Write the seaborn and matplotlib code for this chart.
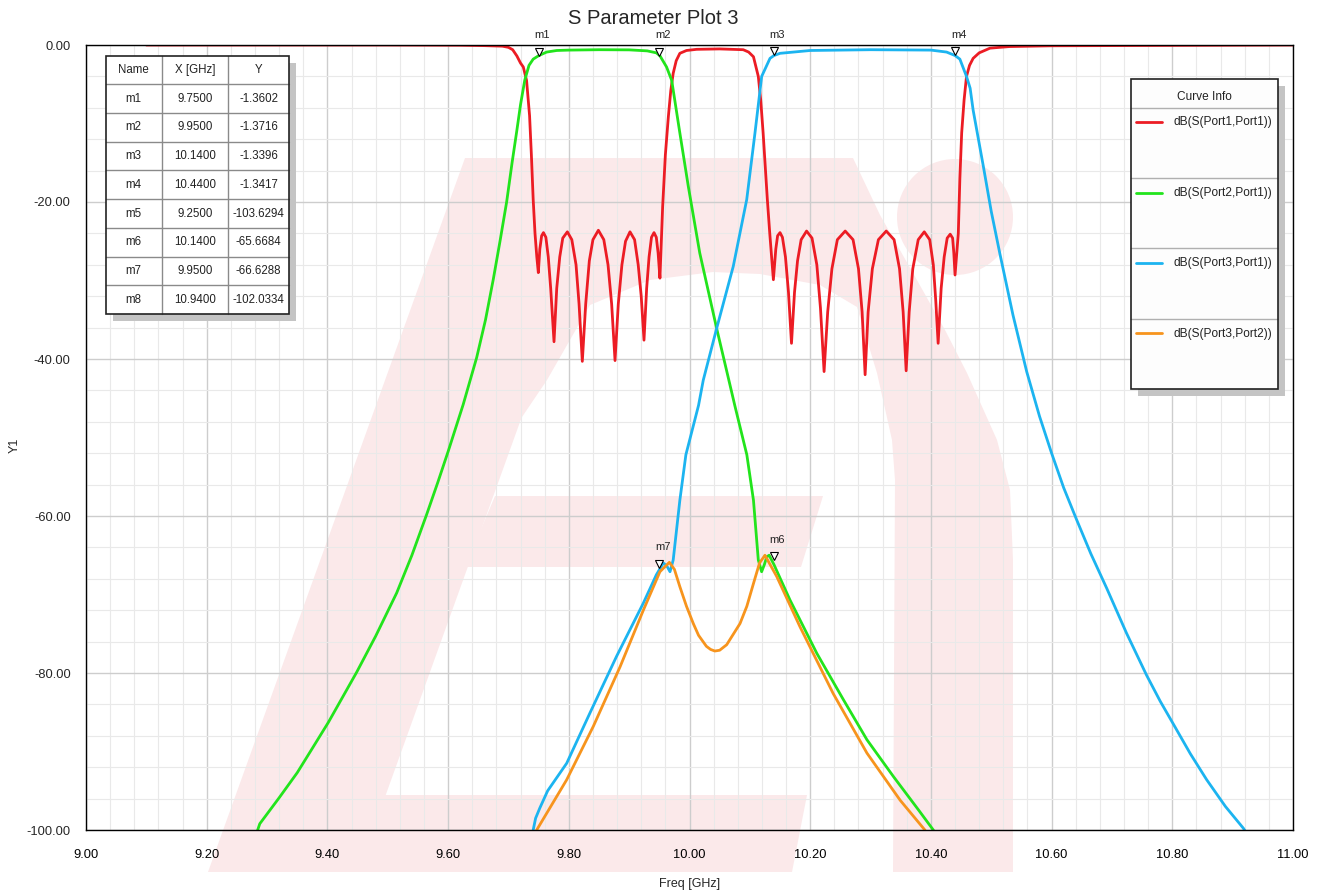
import pandas as pd
import matplotlib
matplotlib.use('Agg')
import matplotlib.pyplot as plt
import matplotlib.patches as mpatches
from matplotlib.lines import Line2D
from matplotlib.ticker import MultipleLocator, FixedLocator
from matplotlib.transforms import ScaledTranslation
import seaborn as sns

# ---- data ----
s11_freq = [9.10, 9.50, 9.62, 9.66, 9.69, 9.70, 9.707, 9.714, 9.72, 9.7246, 9.730, 9.735, 9.738, 9.741,
            9.744, 9.747, 9.7495, 9.752, 9.755, 9.758, 9.762, 9.766, 9.770, 9.7755, 9.780, 9.785, 9.790,
            9.7976, 9.805, 9.812, 9.817, 9.8224, 9.828, 9.834, 9.840, 9.849, 9.858, 9.865, 9.871, 9.8766,
            9.882, 9.888, 9.894, 9.9014, 9.909, 9.915, 9.920, 9.9246, 9.929, 9.933, 9.937, 9.9412, 9.945,
            9.948, 9.951, 9.9555, 9.960, 9.965, 9.969, 9.973, 9.978, 9.984, 9.995, 10.012, 10.05, 10.089,
            10.098, 10.106, 10.114, 10.118, 10.122, 10.126, 10.129, 10.133, 10.136, 10.139, 10.143, 10.146,
            10.150, 10.154, 10.159, 10.164, 10.169, 10.174, 10.179, 10.185, 10.194, 10.203, 10.211, 10.217,
            10.223, 10.229, 10.236, 10.245, 10.258, 10.271, 10.280, 10.286, 10.291, 10.296, 10.303, 10.313,
            10.326, 10.339, 10.348, 10.354, 10.359, 10.364, 10.370, 10.379, 10.389, 10.398, 10.404, 10.408,
            10.412, 10.417, 10.422, 10.427, 10.432, 10.436, 10.438, 10.440, 10.4454, 10.448, 10.451, 10.455,
            10.459, 10.464, 10.470, 10.48, 10.498, 10.53, 10.60, 11.00]
s11_db = [0.0, 0.0, -0.03, -0.08, -0.15, -0.3, -0.6, -1.4, -2.3, -2.8, -4.5, -9.0, -14.0, -19.7,
          -24.0, -27.0, -29.0, -26.0, -24.3, -23.9, -24.5, -27.0, -31.0, -37.8, -31.0, -27.0, -24.6,
          -23.8, -24.8, -28.0, -33.0, -40.3, -33.0, -27.5, -24.8, -23.6, -24.8, -28.0, -33.0, -40.2,
          -33.0, -28.0, -25.0, -23.8, -24.8, -28.0, -32.0, -37.6, -31.0, -27.0, -24.5, -23.9, -24.5,
          -26.5, -29.7, -20.6, -14.0, -9.1, -5.8, -3.6, -2.0, -1.06, -0.7, -0.55, -0.5, -0.6,
          -0.9, -1.5, -4.0, -7.0, -11.2, -16.0, -19.7, -24.0, -27.0, -29.9, -26.0, -24.3,
          -23.9, -24.5, -27.0, -31.5, -38.0, -31.5, -27.5, -24.8, -23.7, -24.6, -28.0, -33.5,
          -41.6, -34.0, -28.5, -24.8, -23.7, -24.8, -28.5, -34.0, -42.0, -34.0, -28.5, -24.8,
          -23.7, -24.8, -28.5, -34.0, -41.5, -34.0, -28.5, -24.8, -23.8, -24.8, -28.0, -32.5,
          -38.0, -31.0, -27.0, -24.6, -24.1, -24.6, -26.5, -29.3, -24.0, -17.0, -11.2, -7.0,
          -4.0, -2.6, -1.7, -1.0, -0.4, -0.2, -0.1, 0.0]

s21_freq = [9.28, 9.288, 9.32, 9.35, 9.375, 9.4015, 9.425, 9.4485, 9.48, 9.5148, 9.54, 9.5645, 9.583,
            9.6004, 9.625, 9.6474, 9.662, 9.675, 9.686, 9.697, 9.706, 9.7137, 9.72, 9.727, 9.734, 9.741,
            9.75, 9.7633, 9.78, 9.80, 9.85, 9.90, 9.93, 9.945, 9.951, 9.962, 9.9705, 9.984, 9.998,
            10.017, 10.045, 10.064, 10.075, 10.095, 10.106, 10.114, 10.1195, 10.124, 10.128, 10.132,
            10.14, 10.1665, 10.211, 10.255, 10.294, 10.338, 10.38, 10.404, 10.41]
s21_db = [-101.0, -99.2, -95.9, -92.7, -89.6, -86.3, -83.1, -79.9, -75.3, -69.8, -65.0, -59.8, -55.7,
          -51.7, -45.8, -39.8, -35.0, -29.8, -25.0, -20.0, -15.0, -11.0, -7.6, -4.5, -2.6, -1.8,
          -1.36, -0.9, -0.7, -0.65, -0.6, -0.62, -0.75, -1.0, -1.37, -2.8, -4.5, -11.2, -18.0,
          -26.5, -36.1, -42.3, -45.9, -52.2, -58.0, -65.6, -67.1, -66.2, -65.2, -65.0,
          -66.2, -70.7, -77.5, -83.4, -88.5, -93.2, -97.5, -100.0, -101.0]

s31_freq = [9.738, 9.741, 9.745, 9.752, 9.765, 9.7965, 9.835, 9.879, 9.9235, 9.945, 9.9566, 9.962,
            9.9677, 9.973, 9.984, 9.994, 10.015, 10.0228, 10.045, 10.0725, 10.0948, 10.1085, 10.1196,
            10.1334, 10.14, 10.15, 10.20, 10.30, 10.40, 10.426, 10.44, 10.448, 10.459, 10.465, 10.47,
            10.487, 10.50, 10.5146, 10.536, 10.5587, 10.58, 10.60, 10.62, 10.6416, 10.665, 10.6913,
            10.724, 10.7575, 10.78, 10.8017, 10.83, 10.857, 10.888, 10.918, 10.925]
s31_db = [-101.0, -100.0, -98.5, -97.2, -95.0, -91.5, -85.1, -77.9, -71.1, -67.5, -66.0, -66.3,
          -67.1, -65.6, -58.0, -52.2, -45.9, -42.7, -36.1, -28.2, -19.7, -11.2, -4.0,
          -1.7, -1.34, -1.06, -0.7, -0.6, -0.65, -0.9, -1.34, -1.8, -4.0, -5.5, -8.3,
          -15.5, -21.2, -26.7, -34.4, -41.6, -47.3, -52.0, -56.4, -60.5, -64.8, -69.2,
          -74.9, -80.3, -83.6, -86.5, -90.3, -93.6, -97.0, -99.8, -100.7]

s32_freq = [9.744, 9.7468, 9.7965, 9.8406, 9.885, 9.9235, 9.951, 9.9666, 9.975, 9.984, 9.995, 10.0063,
            10.015, 10.028, 10.035, 10.042, 10.05, 10.0616, 10.0837, 10.095, 10.106, 10.116, 10.125,
            10.1445, 10.183, 10.238, 10.294, 10.349, 10.39, 10.395]
s32_db = [-101.0, -100.0, -93.6, -86.8, -79.2, -72.0, -67.1, -65.9, -66.8, -69.0, -71.5, -73.7,
          -75.2, -76.6, -77.0, -77.2, -77.1, -76.4, -73.7, -71.5, -68.6, -66.0, -65.0,
          -67.7, -74.1, -82.6, -90.2, -96.2, -100.0, -100.8]

curve_names = ['dB(S(Port1,Port1))', 'dB(S(Port2,Port1))', 'dB(S(Port3,Port1))', 'dB(S(Port3,Port2))']
curve_colors = ['#ec1c24', '#22e41c', '#1cb4f0', '#f7941d']

marker_names = ['m1', 'm2', 'm3', 'm4', 'm5', 'm6', 'm7', 'm8']
marker_freq = [9.75, 9.95, 10.14, 10.44, 9.25, 10.14, 9.95, 10.94]
marker_db = [-1.3602, -1.3716, -1.3396, -1.3417, -103.6294, -65.6684, -66.6288, -102.0334]

x_ticks = [9.00, 9.20, 9.40, 9.60, 9.80, 10.00, 10.20, 10.40, 10.60, 10.80, 11.00]
y_ticks = [0.00, -20.00, -40.00, -60.00, -80.00, -100.00]

frames = []
for name, f, d in zip(curve_names, [s11_freq, s21_freq, s31_freq, s32_freq],
                      [s11_db, s21_db, s31_db, s32_db]):
    frames.append(pd.DataFrame({'Freq': f, 'dB': d, 'Curve': name}))
df = pd.concat(frames, ignore_index=True)

sns.set_style('white')
plt.rcParams['font.family'] = ['Liberation Sans', 'DejaVu Sans']

W, H = 1323, 896
fig = plt.figure(figsize=(W / 100, H / 100), dpi=100, facecolor='white')


def fx(px):
    return px / W


def fy(py):
    return 1 - py / H


def rect(x0, y0, x1, y1, **kw):
    return mpatches.Rectangle((fx(x0), fy(y1)), (x1 - x0) / W, (y1 - y0) / H,
                              transform=fig.transFigure, **kw)


# faint background logo (pixel outlines)
wm = '#fbe9ea'
wm_polys = [
    [(208, 872), (358, 872), (615, 158), (465, 158)],
    [(495, 496), (823, 496), (801, 567), (465, 567)],
    [(374, 795), (807, 795), (792, 872), (345, 872)],
    [(465, 158), (853, 158), (880, 215), (913, 273), (945, 330), (967, 373), (997, 440),
     (1010, 490), (1013, 560), (1013, 872), (893, 872), (895, 480), (892, 440), (877, 373),
     (857, 307), (820, 285), (760, 274), (713, 272), (650, 280), (590, 305), (547, 380),
     (520, 420)],
]
for poly in wm_polys:
    fig.add_artist(mpatches.Polygon([(fx(a), fy(b)) for a, b in poly], closed=True,
                                    transform=fig.transFigure, color=wm, lw=0, zorder=-2))
fig.add_artist(mpatches.Ellipse((fx(955), fy(217)), 116 / W, 116 / H, transform=fig.transFigure,
                                color=wm, lw=0, zorder=-2))

ax = fig.add_axes([fx(86), fy(830), (1293 - 86) / W, (830 - 45) / H])
ax.set_facecolor('none')

sns.lineplot(data=df, x='Freq', y='dB', hue='Curve', hue_order=curve_names,
             palette=dict(zip(curve_names, curve_colors)), sort=False, estimator=None,
             legend=False, linewidth=2.0, ax=ax)

ax.set_xlim(9.0, 11.0)
ax.set_ylim(-100, 0)
ax.xaxis.set_major_locator(FixedLocator(x_ticks))
ax.yaxis.set_major_locator(FixedLocator(y_ticks))
ax.xaxis.set_minor_locator(MultipleLocator(0.04))
ax.yaxis.set_minor_locator(MultipleLocator(4))
ax.set_xticklabels(['%.2f' % v for v in x_ticks])
ax.set_yticklabels(['%.2f' % v for v in y_ticks])
ax.set_axisbelow(True)
ax.grid(which='major', color='#cdcdcd', lw=1.0)
ax.grid(which='minor', color='#e9e9e9', lw=0.8)
ax.tick_params(axis='x', which='major', direction='out', length=9, width=1, pad=5,
               labelsize=9.3, colors='black')
ax.tick_params(axis='x', which='minor', direction='inout', length=7, width=1)
ax.tick_params(axis='y', which='major', direction='out', length=7, width=1, pad=4,
               labelsize=9.3)
ax.tick_params(axis='y', which='minor', direction='out', length=3.6, width=1)
for s in ax.spines.values():
    s.set_color('black')
    s.set_linewidth(1.0)
ax.set_xlabel('')
ax.set_ylabel('')

# markers
off = ScaledTranslation(0, 3 / 72, fig.dpi_scale_trans)
for name, mx, my in zip(marker_names, marker_freq, marker_db):
    if my < -100:
        continue
    ax.plot([mx], [my], marker='v', ms=6, mfc='white', mec='black', mew=0.8,
            transform=ax.transData + off, clip_on=False, zorder=6)
    ax.annotate(name, (mx, my), xytext=(2.5, 11.5), textcoords='offset points',
                ha='center', va='bottom', fontsize=8, color='#222222', zorder=6,
                annotation_clip=False)

fig.text(fx(653), fy(19), 'S Parameter Plot 3', ha='center', va='center', fontsize=14.5)
fig.text(fx(690), fy(884), 'Freq [GHz]', ha='center', va='center', fontsize=9)
fig.text(fx(15), fy(445), 'Y1', ha='center', va='center', rotation=90, fontsize=9)

# marker table
cols = [105.7, 161.7, 228.3, 288.7]
top, rh = 55.7, 28.7
nrows = len(marker_names) + 1
bottom = top + rh * nrows
fig.add_artist(rect(cols[0] + 7, top + 7, cols[-1] + 7, bottom + 7, color='#c4c4c4', lw=0, zorder=4))
fig.add_artist(rect(cols[0], top, cols[-1], bottom, facecolor='white', edgecolor='none', zorder=5))
for i in range(1, nrows):
    y = top + rh * i
    fig.add_artist(Line2D([fx(cols[0]), fx(cols[-1])], [fy(y), fy(y)], color='#8a8a8a', lw=1.0,
                          transform=fig.transFigure, zorder=6))
for c in cols[1:-1]:
    fig.add_artist(Line2D([fx(c), fx(c)], [fy(top), fy(bottom)], color='#8a8a8a', lw=1.0,
                          transform=fig.transFigure, zorder=6))
fig.add_artist(rect(cols[0], top, cols[-1], bottom, facecolor='none', edgecolor='#222222',
                    lw=1.2, zorder=7))
centers = [(cols[i] + cols[i + 1]) / 2 for i in range(3)]
rows = [['Name', 'X [GHz]', 'Y']] + [[n, '%.4f' % xv, '%.4f' % yv]
                                      for n, xv, yv in zip(marker_names, marker_freq, marker_db)]
for r, row in enumerate(rows):
    yc = top + rh * (r + 0.5)
    for cx, txt in zip(centers, row):
        fig.text(fx(cx), fy(yc), txt, ha='center', va='center', fontsize=8.3, color='#222222',
                 zorder=8)

# curve info box
lx0, lx1, ly0, ly1 = 1131, 1278, 79, 389.3
hdr = 107.7
row_h = (ly1 - hdr) / len(curve_names)
fig.add_artist(rect(lx0 + 7, ly0 + 7, lx1 + 7, ly1 + 7, color='#c4c4c4', lw=0, zorder=4))
fig.add_artist(rect(lx0, ly0, lx1, ly1, facecolor='#fdfdfd', edgecolor='none', zorder=5))
for i in range(len(curve_names)):
    y = hdr + row_h * i
    fig.add_artist(Line2D([fx(lx0), fx(lx1)], [fy(y), fy(y)], color='#b0b0b0', lw=1.0,
                          transform=fig.transFigure, zorder=6))
fig.add_artist(rect(lx0, ly0, lx1, ly1, facecolor='none', edgecolor='#222222', lw=1.2, zorder=7))
fig.text(fx((lx0 + lx1) / 2), fy(96.7), 'Curve Info', ha='center', va='center', fontsize=8.6,
         color='#222222', zorder=8)
for i, (name, col) in enumerate(zip(curve_names, curve_colors)):
    yy = hdr + 14.6 + row_h * i
    fig.add_artist(Line2D([fx(1136), fx(1162)], [fy(yy), fy(yy)], color=col, lw=2.0,
                          transform=fig.transFigure, zorder=8))
    fig.text(fx(1174), fy(yy), name, ha='left', va='center', fontsize=8.6, color='#222222',
             zorder=8)

fig.savefig('out.png', dpi=100, facecolor='white')
